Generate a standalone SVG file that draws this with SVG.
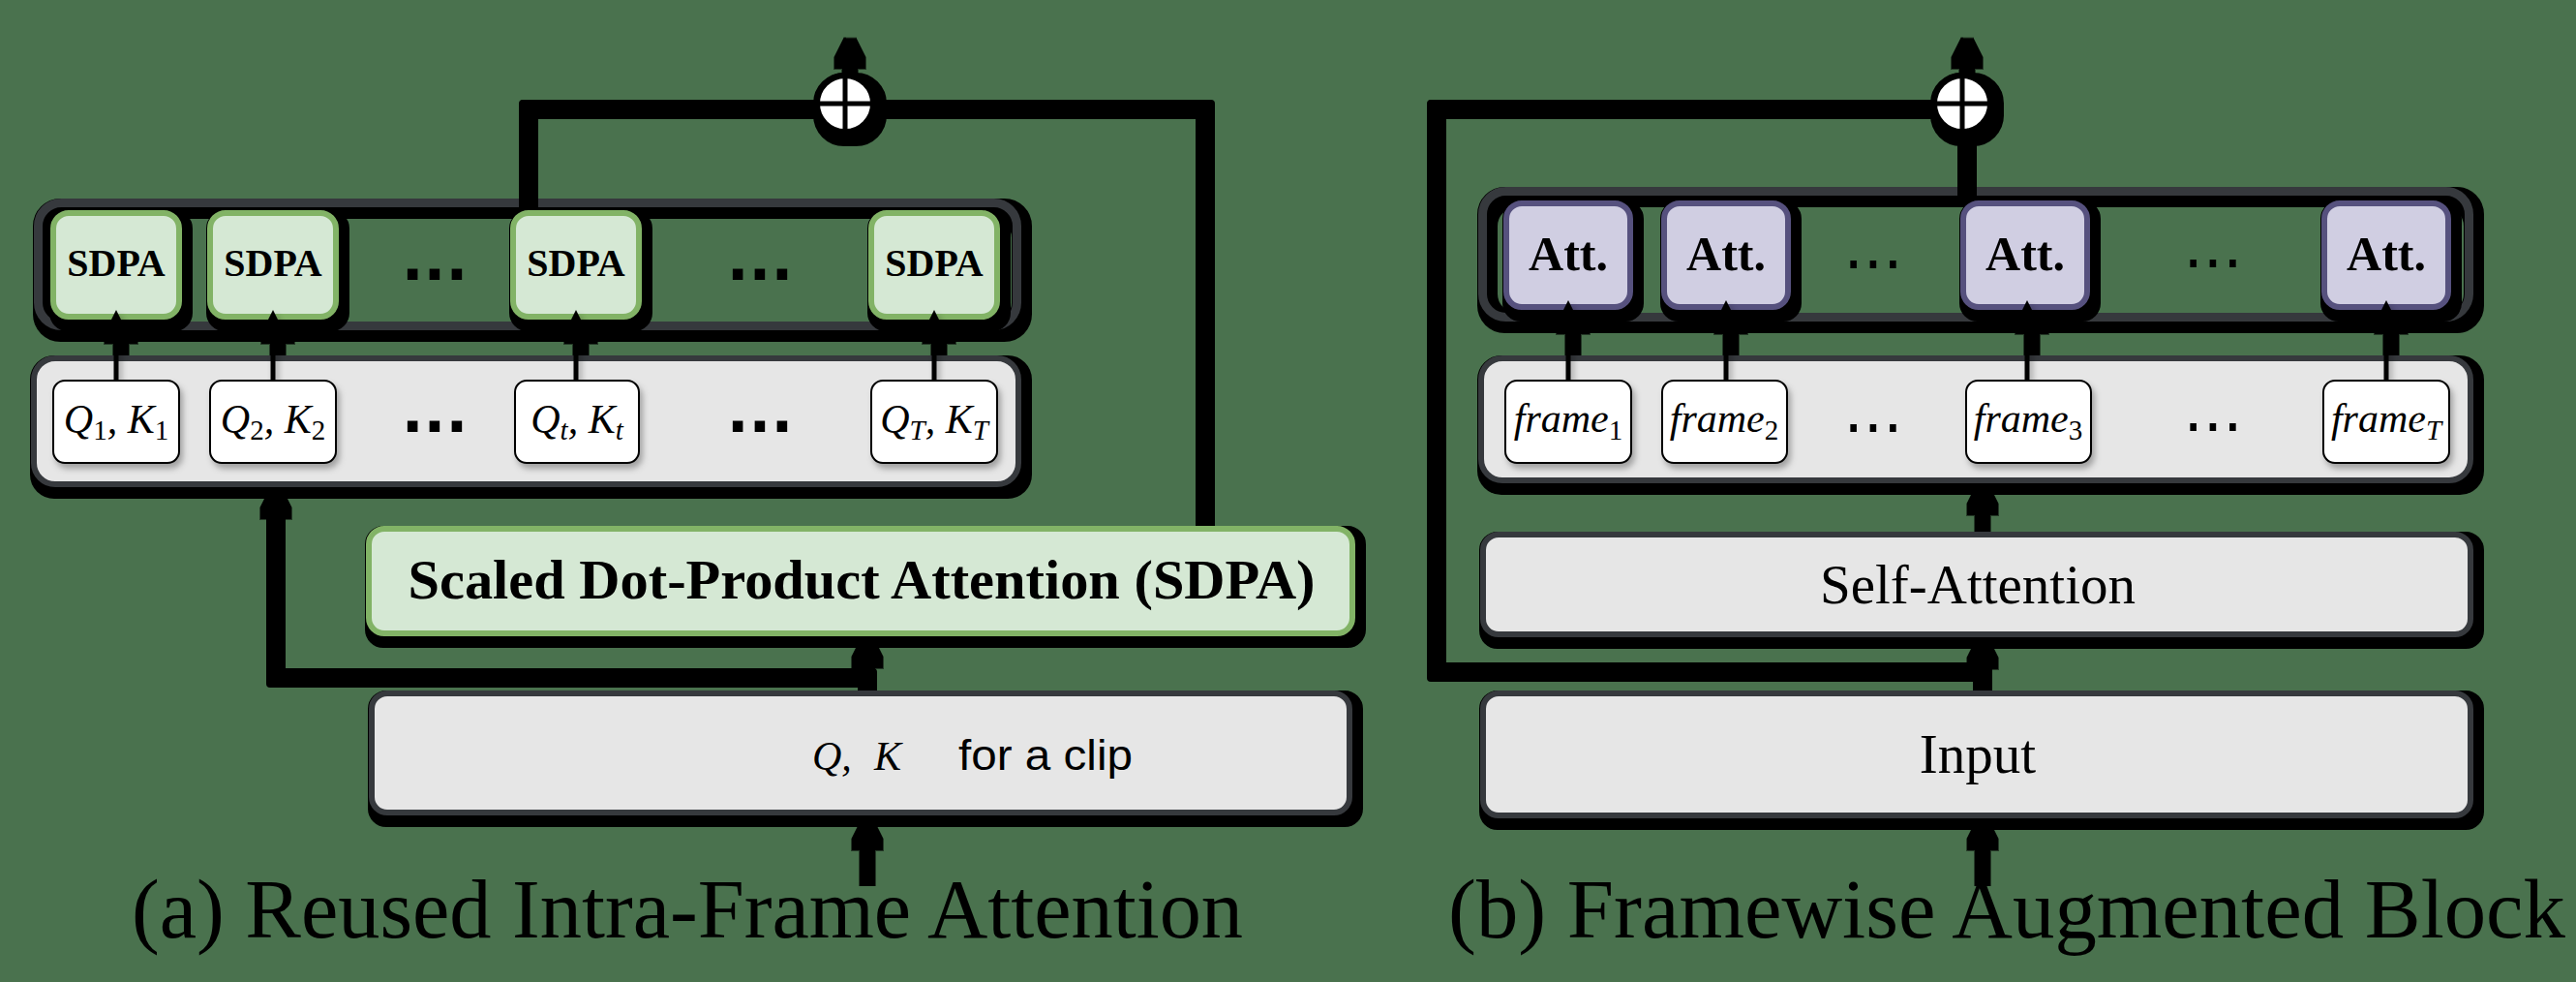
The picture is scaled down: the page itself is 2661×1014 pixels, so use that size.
<svg xmlns="http://www.w3.org/2000/svg" width="2661" height="1014" viewBox="0 0 2661 1014">
<style>
.bg{fill:#4a724e}
.ctr{fill:none;stroke:#36393d;stroke-width:9}
.gray{fill:#e6e6e6;stroke:#36393d;stroke-width:6}
.grn{fill:#d5e8d4;stroke:#82b366;stroke-width:6}
.pur{fill:#d0cee2;stroke:#56517e;stroke-width:6}
.wht{fill:#ffffff;stroke:#000000;stroke-width:2}
.ln{fill:none;stroke:#000;stroke-width:8;stroke-linejoin:round}
.ar{fill:none;stroke:#000;stroke-width:5}
.arw{marker-end:url(#ah)}
.circ{fill:#fff;stroke:#000;stroke-width:6}
.cross{stroke:#000;stroke-width:5;fill:none}
.tb{font-family:"Liberation Serif","Times New Roman",serif;font-weight:bold;fill:#000;text-anchor:middle}
.tr{font-family:"Liberation Serif","Times New Roman",serif;fill:#000;text-anchor:middle}
.mi{font-family:"Liberation Serif","Times New Roman",serif;font-style:italic;fill:#000;text-anchor:middle;font-size:42px}
.sub{font-style:normal;font-size:29px}
.subi{font-style:italic;font-size:29px}
.sans{font-family:"Liberation Sans",Arial,sans-serif;fill:#000}
.dotb{font-family:"DejaVu Sans",sans-serif;font-weight:bold;font-size:60px;text-anchor:middle;fill:#000}
.dotr{font-family:"DejaVu Sans",sans-serif;font-size:64px;text-anchor:middle;fill:#000}
.cap{font-family:"Liberation Serif","Times New Roman",serif;font-size:86px;fill:#000;text-anchor:middle}
</style>
<defs>
<filter id="hs" filterUnits="userSpaceOnUse" x="0" y="0" width="2661" height="1014" color-interpolation-filters="sRGB">
<feMorphology in="SourceAlpha" operator="dilate" radius="6"/>
<feOffset dx="5" dy="6" result="o"/>
<feFlood flood-color="#000"/>
<feComposite in2="o" operator="in"/>
<feMerge><feMergeNode/><feMergeNode in="SourceGraphic"/></feMerge>
</filter>
<filter id="hsg" filterUnits="userSpaceOnUse" x="0" y="0" width="2661" height="1014" color-interpolation-filters="sRGB">
<feMorphology in="SourceAlpha" operator="dilate" radius="6"/>
<feOffset dx="5" dy="6" result="o"/>
<feFlood flood-color="#000" x="0" y="333" width="2661" height="34"/>
<feComposite in2="o" operator="in" result="h"/>
<feGaussianBlur in="SourceAlpha" stdDeviation="3"/>
<feOffset dx="3" dy="4"/>
<feComponentTransfer><feFuncA type="linear" slope="0.3"/></feComponentTransfer>
<feMerge><feMergeNode/><feMergeNode in="h"/><feMergeNode in="SourceGraphic"/></feMerge>
</filter>
<filter id="ss" filterUnits="userSpaceOnUse" x="0" y="0" width="2661" height="1014">
<feDropShadow dx="3" dy="5" stdDeviation="3" flood-color="#000" flood-opacity="0.3"/>
</filter>
<marker id="ah" viewBox="0 0 22 22" refX="8" refY="11" markerWidth="22" markerHeight="22" markerUnits="userSpaceOnUse" orient="auto">
<path d="M0,0 L22,11 L0,22 L6,11 Z" fill="#000"/>
</marker>
<marker id="ah2" viewBox="0 0 24 24" refX="8" refY="12" markerWidth="24" markerHeight="24" markerUnits="userSpaceOnUse" orient="auto">
<path d="M0,0 L24,12 L0,24 L6,12 Z" fill="#000"/>
</marker>
</defs>
<rect class="bg" x="0" y="0" width="2661" height="1014"/>

<!-- row containers -->
<g id="sdpa-row" filter="url(#hs)"><rect class="ctr" x="39.5" y="209.5" width="1011" height="127" rx="24"/></g>
<g id="qk-row" filter="url(#hs)"><rect class="gray" x="35" y="370" width="1017" height="130" rx="22"/></g>
<g id="att-row" filter="url(#hs)"><rect class="ctr" x="1531.5" y="197.5" width="1019" height="130" rx="24"/></g>
<g id="frame-row" filter="url(#hs)"><rect class="gray" x="1530" y="370" width="1022" height="126" rx="22"/></g>

<!-- per-frame attention boxes -->
<g id="sdpa1"><rect class="grn" x="55" y="220" width="130" height="107" rx="16" filter="url(#hs)"/><text class="tb" x="120" y="285" font-size="40">SDPA</text></g>
<g id="sdpa2"><rect class="grn" x="217" y="220" width="130" height="107" rx="16" filter="url(#hs)"/><text class="tb" x="282" y="285" font-size="40">SDPA</text></g>
<g id="sdpa-t"><rect class="grn" x="530" y="220" width="130" height="107" rx="16" filter="url(#hs)"/><text class="tb" x="595" y="285" font-size="40">SDPA</text></g>
<g id="sdpa-T"><rect class="grn" x="900" y="220" width="130" height="107" rx="16" filter="url(#hs)"/><text class="tb" x="965" y="285" font-size="40">SDPA</text></g>
<g id="sdpa-dots"><text class="dotb" x="449" y="289">...</text><text class="dotb" x="785" y="289">...</text></g>

<g id="att1"><rect class="pur" x="1556" y="210" width="128" height="107" rx="16" filter="url(#hs)"/><text class="tb" x="1620" y="279" font-size="50">Att.</text></g>
<g id="att2"><rect class="pur" x="1719" y="210" width="128" height="107" rx="16" filter="url(#hs)"/><text class="tb" x="1783" y="279" font-size="50">Att.</text></g>
<g id="att3"><rect class="pur" x="2028" y="210" width="128" height="107" rx="16" filter="url(#hs)"/><text class="tb" x="2092" y="279" font-size="50">Att.</text></g>
<g id="attT"><rect class="pur" x="2401" y="210" width="128" height="107" rx="16" filter="url(#hs)"/><text class="tb" x="2465" y="279" font-size="50">Att.</text></g>
<g id="att-dots"><text class="dotr" x="1935" y="277">...</text><text class="dotr" x="2286" y="276">...</text></g>

<g id="connectors">
<g filter="url(#hsg)" style="marker-end:url(#ah2)">
<path class="ar" d="M120,392 V336"/>
<path class="ar" d="M282,392 V336"/>
<path class="ar" d="M595,392 V336"/>
<path class="ar" d="M965,392 V336"/>
<path class="ar" d="M1620,392 V326"/>
<path class="ar" d="M1783,392 V326"/>
<path class="ar" d="M2094,392 V326"/>
<path class="ar" d="M2465,392 V326"/>
</g>
<g filter="url(#hs)">
<path class="ln" d="M541,205 V107 H845"/>
<path class="ln" d="M1240,543 V107 H901"/>
<path class="ar arw" d="M873,79 V52"/>
<path class="ar arw" d="M891,713 V671"/>
<path class="ln arw" d="M891,713 V694 H280 V517"/>
<path class="ar arw" d="M891,903 V859"/>
<path class="ln" d="M2027,193 V135"/>
<path class="ar arw" d="M2027,79 V52"/>
<path class="ar arw" d="M2043,549 V513"/>
<path class="ar arw" d="M2043,713 V672"/>
<path class="ln" d="M2043,713 V688 H1479 V107 H1999"/>
<path class="ar arw" d="M2043,903 V859"/>
</g>
</g>

<!-- left panel nodes -->
<g id="qk1"><rect class="wht" x="55" y="393" width="130" height="85" rx="12" filter="url(#ss)"/><text class="mi" x="120" y="447">Q<tspan class="sub" dy="7">1</tspan><tspan dy="-7">, K</tspan><tspan class="sub" dy="7">1</tspan></text></g>
<g id="qk2"><rect class="wht" x="217" y="393" width="130" height="85" rx="12" filter="url(#ss)"/><text class="mi" x="282" y="447">Q<tspan class="sub" dy="7">2</tspan><tspan dy="-7">, K</tspan><tspan class="sub" dy="7">2</tspan></text></g>
<g id="qk-t"><rect class="wht" x="532" y="393" width="128" height="85" rx="12" filter="url(#ss)"/><text class="mi" x="596" y="447">Q<tspan class="subi" dy="7">t</tspan><tspan dy="-7">, K</tspan><tspan class="subi" dy="7">t</tspan></text></g>
<g id="qk-T"><rect class="wht" x="900" y="393" width="130" height="85" rx="12" filter="url(#ss)"/><text class="mi" x="965" y="447">Q<tspan class="subi" dy="7">T</tspan><tspan dy="-7">, K</tspan><tspan class="subi" dy="7">T</tspan></text></g>
<g id="qk-dots"><text class="dotb" x="449" y="446">...</text><text class="dotb" x="785" y="446">...</text></g>

<g id="sdpa-main"><rect class="grn" x="381" y="546" width="1016" height="108" rx="16" filter="url(#hs)"/><text class="tb" x="890" y="618" font-size="56" textLength="937" lengthAdjust="spacingAndGlyphs">Scaled Dot-Product Attention (SDPA)</text></g>
<g id="qk-clip"><rect class="gray" x="384" y="716" width="1010" height="123" rx="16" filter="url(#hs)"/><text class="mi" y="795" font-size="46" style="text-anchor:start"><tspan x="839">Q,</tspan><tspan x="903">K</tspan></text><text class="sans" x="990" y="795" font-size="44" textLength="180" lengthAdjust="spacingAndGlyphs">for a clip</text></g>

<g id="add-a"><circle class="circ" cx="873" cy="107" r="29" filter="url(#hs)"/><path class="cross" d="M873,81 V133 M847,107 H899"/></g>

<!-- right panel nodes -->
<g id="frame1"><rect class="wht" x="1555" y="393" width="130" height="85" rx="12" filter="url(#ss)"/><text class="mi" x="1620" y="446">frame<tspan class="sub" dy="8">1</tspan></text></g>
<g id="frame2"><rect class="wht" x="1717" y="393" width="129" height="85" rx="12" filter="url(#ss)"/><text class="mi" x="1781" y="446">frame<tspan class="sub" dy="8">2</tspan></text></g>
<g id="frame3"><rect class="wht" x="2031" y="393" width="129" height="85" rx="12" filter="url(#ss)"/><text class="mi" x="2095" y="446">frame<tspan class="sub" dy="8">3</tspan></text></g>
<g id="frameT"><rect class="wht" x="2400" y="393" width="130" height="85" rx="12" filter="url(#ss)"/><text class="mi" x="2465" y="446">frame<tspan class="subi" dy="8">T</tspan></text></g>
<g id="frame-dots"><text class="dotr" x="1935" y="446">...</text><text class="dotr" x="2286" y="445">...</text></g>

<g id="self-attention"><rect class="gray" x="1532" y="552" width="1020" height="103" rx="16" filter="url(#hs)"/><text class="tr" x="2043" y="623" font-size="57">Self-Attention</text></g>
<g id="input"><rect class="gray" x="1532" y="716" width="1020" height="126" rx="16" filter="url(#hs)"/><text class="tr" x="2043" y="798" font-size="57">Input</text></g>

<g id="add-b"><circle class="circ" cx="2027" cy="107" r="29" filter="url(#hs)"/><path class="cross" d="M2027,81 V133 M2001,107 H2053"/></g>

<g id="captions">
<text class="cap" x="710" y="968" textLength="1148" lengthAdjust="spacingAndGlyphs">(a) Reused Intra-Frame Attention</text>
<text class="cap" x="2073" y="968" textLength="1154" lengthAdjust="spacingAndGlyphs">(b) Framewise Augmented Block</text>
</g>
</svg>
